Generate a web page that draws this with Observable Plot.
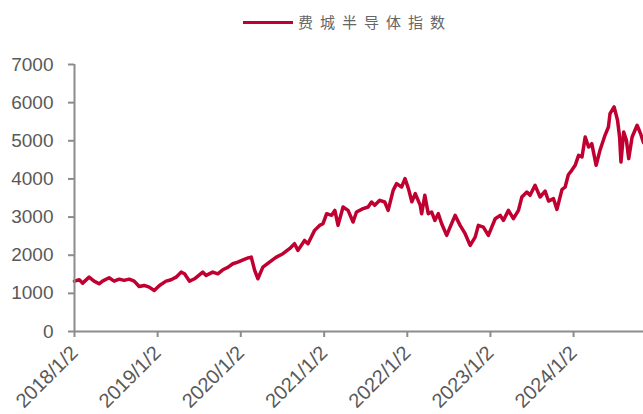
<!DOCTYPE html>
<html>
<head>
<meta charset="utf-8">
<script src="https://cdn.jsdelivr.net/npm/d3@7"></script>
<script src="https://cdn.jsdelivr.net/npm/@observablehq/plot@0.6"></script>
<style>
  html, body { margin: 0; padding: 0; background: #fff; }
  #wrap { width: 643px; height: 414px; position: relative; overflow: hidden; }
  #legend { position: relative; width: 643px; height: 42px; }
  #legend .swatch { position: absolute; left: 243px; top: 21px; width: 50px; height: 3px; background: #c00030; }
  #legend .label { position: absolute; left: 298px; top: 13px; font: 15px/17px "Noto Sans CJK SC", sans-serif; letter-spacing: 7px; color: #666; white-space: nowrap; }
</style>
</head>
<body>
<div id="wrap">
  <div id="legend"><span class="swatch"></span><span class="label" id="legendLabel"></span></div>
  <div id="chart"></div>
</div>
<script>
// ---- data ----
const seriesName = "费城半导体指数";
const dates = [
  "2018-01-02","2018-01-23","2018-02-07","2018-03-07","2018-03-29","2018-04-20","2018-05-05","2018-06-03","2018-06-25","2018-07-17",
  "2018-08-08","2018-08-30","2018-09-21","2018-10-13","2018-11-04","2018-11-26","2018-12-18","2019-01-10","2019-02-08","2019-03-02",
  "2019-03-24","2019-04-15","2019-04-30","2019-05-22","2019-06-13","2019-07-19","2019-08-03","2019-09-01","2019-09-23","2019-10-15",
  "2019-11-06","2019-11-28","2019-12-20","2020-01-12","2020-02-03","2020-02-17","2020-03-03","2020-03-17","2020-04-08","2020-05-07",
  "2020-06-06","2020-07-05","2020-08-03","2020-08-25","2020-09-09","2020-10-08","2020-10-23","2020-11-21","2020-12-13","2020-12-28",
  "2021-01-13","2021-02-04","2021-02-18","2021-03-04","2021-03-26","2021-04-17","2021-05-09","2021-05-24","2021-06-22","2021-07-14",
  "2021-07-29","2021-08-12","2021-09-03","2021-09-25","2021-10-10","2021-11-01","2021-11-16","2021-12-08","2021-12-23","2022-01-07",
  "2022-01-22","2022-02-06","2022-02-28","2022-03-06","2022-03-20","2022-04-04","2022-04-19","2022-05-03","2022-05-18","2022-06-02",
  "2022-06-24","2022-07-09","2022-07-31","2022-08-22","2022-09-13","2022-10-05","2022-10-27","2022-11-10","2022-12-02","2022-12-24",
  "2023-01-23","2023-02-14","2023-02-28","2023-03-22","2023-04-13","2023-05-05","2023-05-20","2023-06-11","2023-06-25","2023-07-17",
  "2023-08-08","2023-08-30","2023-09-14","2023-10-06","2023-10-21","2023-11-12","2023-11-26","2023-12-10","2023-12-25","2024-01-09",
  "2024-01-24","2024-02-08","2024-02-22","2024-03-08","2024-03-22","2024-04-10","2024-04-27","2024-05-19","2024-06-03","2024-06-10",
  "2024-06-28","2024-07-13","2024-07-22","2024-07-28","2024-08-09","2024-08-21","2024-08-31","2024-09-15","2024-10-07","2024-10-22",
  "2024-11-04"
];
const values = [
  1320,1357,1268,1425,1320,1250,1320,1409,1320,1373,
  1340,1373,1320,1181,1207,1163,1076,1207,1320,1357,
  1425,1557,1513,1320,1382,1557,1470,1557,1513,1618,
  1680,1776,1820,1880,1930,1951,1601,1383,1688,1819,
  1951,2039,2171,2302,2126,2388,2302,2651,2782,2826,
  3089,3046,3176,2782,3264,3176,2870,3133,3220,3264,
  3395,3308,3438,3395,3176,3701,3876,3789,4008,3745,
  3400,3614,3307,3089,3570,3089,3133,2913,3089,2826,
  2520,2738,3045,2782,2564,2257,2475,2782,2738,2520,
  2957,3045,2913,3176,2957,3176,3526,3657,3570,3832,
  3526,3680,3420,3482,3200,3720,3789,4110,4226,4357,
  4619,4576,5100,4837,4925,4357,4750,5144,5362,5713,
  5888,5538,5100,4444,5231,5013,4532,5100,5407,5189,
  4950
];
const xTickLabels = ["2018/1/2","2019/1/2","2020/1/2","2021/1/2","2022/1/2","2023/1/2","2024/1/2"];
const yTicks = [0,1000,2000,3000,4000,5000,6000,7000];
const xStart = "2018-01-02", xEnd = "2024-11-04";

// ---- build ----
const parse = d3.utcParse("%Y-%m-%d");
const parseTick = d3.utcParse("%Y/%m/%d");
const data = dates.map((d, i) => ({date: parse(d), value: values[i]}));
const xTicks = xTickLabels.map(s => parseTick(s));
const fmt = d3.utcFormat("%Y/%-m/%-d");

document.getElementById("legendLabel").textContent = seriesName;

const axisColor = "#8c8c8c";
const chart = Plot.plot({
  width: 643,
  height: 372,
  marginLeft: 74,
  marginRight: 0,
  marginTop: 22,
  marginBottom: 83,
  style: {fontFamily: "'Liberation Sans', Arial, sans-serif", color: "#595959", background: "#fff"},
  x: {type: "utc", domain: [parse(xStart), parse(xEnd)]},
  y: {domain: [0, 7000]},
  marks: [
    Plot.axisY({ticks: yTicks, tickFormat: d => String(d), tickSize: 6, tickPadding: 15, fontSize: 19, stroke: axisColor, strokeWidth: 2, label: null}),
    Plot.axisX({ticks: xTicks, tickFormat: fmt, tickSize: 6, tickPadding: 12, tickRotate: -45, fontSize: 20, stroke: axisColor, strokeWidth: 2, label: null}),
    Plot.lineY(data, {x: "date", y: "value", stroke: "#c00030", strokeWidth: 3.5, strokeLinejoin: "round"}),
    Plot.ruleX([parse(xStart)], {stroke: axisColor, strokeWidth: 2}),
    Plot.ruleY([0], {stroke: axisColor, strokeWidth: 2})
  ]
});
document.getElementById("chart").appendChild(chart);
</script>
</body>
</html>
